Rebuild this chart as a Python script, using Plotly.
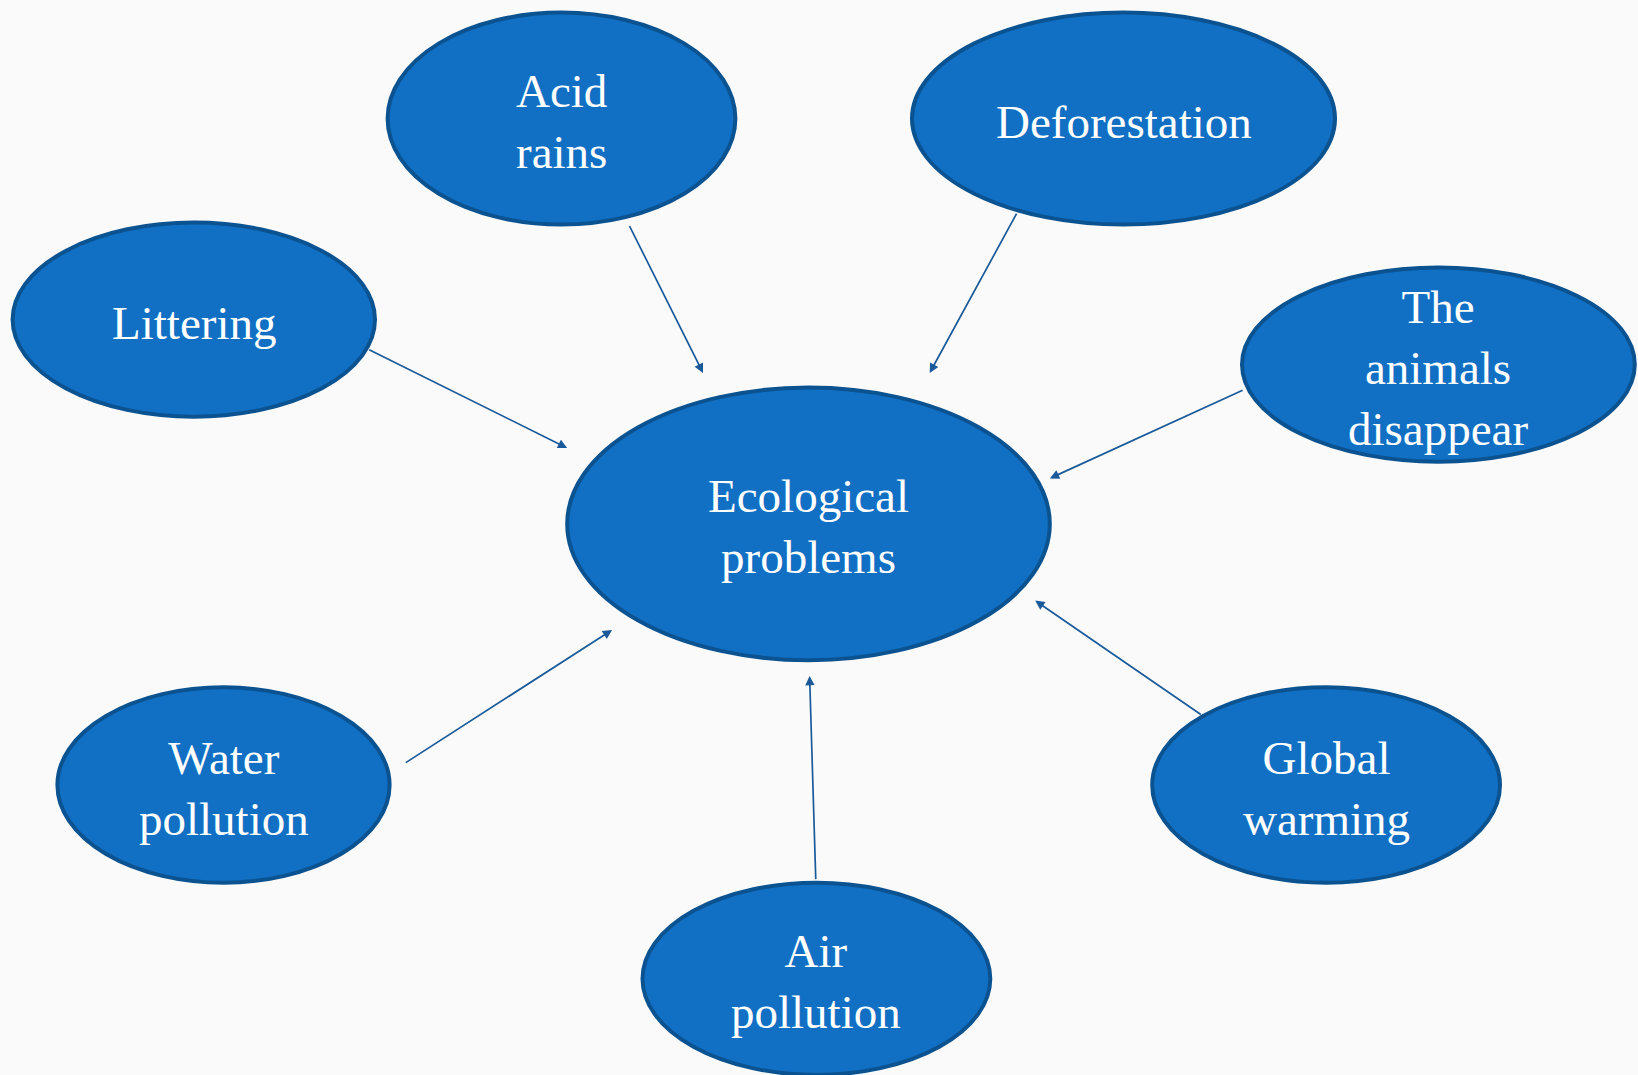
import plotly.graph_objects as go

# Node data (pixel-space layout of the concept map)
labels = ["Acid<br>rains", "Deforestation", "Littering", "The<br>animals<br>disappear",
          "Ecological<br>problems", "Water<br>pollution", "Global<br>warming", "Air<br>pollution"]
cx = [561.5, 1123.5, 193.8, 1438.4, 808.5, 223.5, 1326.1, 816.4]
cy = [118.6, 118.6, 319.6, 364.6, 523.9, 785.0, 785.0, 978.8]
rx = [173.9, 211.5, 181.2, 196.4, 241.3, 166.1, 173.9, 173.9]
ry = [106.0, 106.0, 97.1, 97.1, 136.3, 97.7, 97.7, 96.1]

# Arrows: tail (x0,y0) -> head (x1,y1)
arrow_x0 = [628.8, 1017.4, 367.7, 1244.1, 404.3, 815.8, 1202.3]
arrow_y0 = [224.6, 212.1, 348.9, 389.6, 763.6, 880.6, 715.5]
arrow_x1 = [703.0, 929.7, 567.2, 1049.8, 612.1, 809.6, 1035.2]
arrow_y1 = [372.9, 372.9, 448.1, 478.4, 629.9, 675.9, 600.6]

W, H = 1638, 1075
FILL = "#1170C4"
EDGE = "#0B5290"
ARROW = "#1A5A9A"

fig = go.Figure()
fig.add_trace(go.Scatter(x=[0, W], y=[0, H], mode="markers", marker=dict(opacity=0),
                         hoverinfo="skip", showlegend=False))

shapes = []
for x, y, a, b in zip(cx, cy, rx, ry):
    shapes.append(dict(type="circle", xref="x", yref="y", x0=x - a, x1=x + a, y0=y - b, y1=y + b,
                       fillcolor=FILL, line=dict(color=EDGE, width=4), layer="above"))

annotations = []
for x0, y0, x1, y1 in zip(arrow_x0, arrow_y0, arrow_x1, arrow_y1):
    annotations.append(dict(x=x1, y=y1, ax=x0, ay=y0, xref="x", yref="y", axref="x", ayref="y",
                            text="", showarrow=True, arrowhead=2, arrowsize=1.1, arrowwidth=1.7,
                            arrowcolor=ARROW))
for t, x, y in zip(labels, cx, cy):
    annotations.append(dict(x=x, y=y, xref="x", yref="y", text=t, showarrow=False, yshift=-3,
                            font=dict(family="Liberation Serif, DejaVu Serif, serif", size=47, color="white"),
                            align="center"))

fig.update_layout(
    width=W, height=H, margin=dict(l=0, r=0, t=0, b=0),
    paper_bgcolor="#FAFAFA", plot_bgcolor="#FAFAFA",
    xaxis=dict(range=[0, W], visible=False, fixedrange=True),
    yaxis=dict(range=[H, 0], visible=False, fixedrange=True),
    shapes=shapes, annotations=annotations, showlegend=False,
)
fig.write_html("out.html", config={"displayModeBar": False},
               post_script="document.body.style.margin='0';document.body.style.padding='0';")
